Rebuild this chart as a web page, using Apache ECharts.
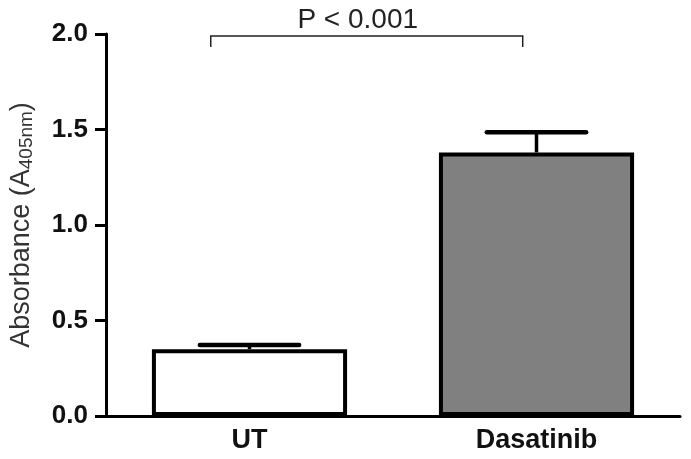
<!DOCTYPE html>
<html><head><meta charset="utf-8">
<script src="https://cdn.jsdelivr.net/npm/echarts@6/dist/echarts.min.js"></script>
<style>html,body{margin:0;padding:0;background:#fff}#c{width:691px;height:459px}</style>
</head><body><div id="c"></div>
<script>
const categories = ['UT', 'Dasatinib'];
const means = [0.35, 1.38];
const errorTops = [0.372, 1.485];
const barColors = ['#ffffff', '#808080'];
const yTicks = [0, 0.5, 1.0, 1.5, 2.0];
const bracketLabel = 'P < 0.001';
const bracketY = 1.99;

const chart = echarts.init(document.getElementById('c'));
const font = '"Liberation Sans", Arial, Helvetica, sans-serif';

chart.setOption({
  animation: false,
  grid: { left: 102, right: 11, top: 34, bottom: 43, containLabel: false },
  xAxis: {
    type: 'category', data: categories,
    axisLine: { lineStyle: { color: '#000', width: 3 } },
    axisTick: { alignWithLabel: true, length: 10, lineStyle: { color: '#000', width: 3 } },
    axisLabel: { color: '#111', fontFamily: font, fontWeight: 'bold', fontSize: 27, margin: 11 }
  },
  yAxis: {
    type: 'value', min: 0, max: 2.0, interval: 0.5,
    axisLine: { show: true, onZero: false, lineStyle: { color: '#000', width: 3 } },
    axisTick: { show: true, length: 11, lineStyle: { color: '#000', width: 3 } },
    splitLine: { show: false },
    axisLabel: { color: '#111', fontFamily: font, fontWeight: 'bold', fontSize: 26, margin: 18,
      formatter: v => yTicks.includes(v) ? v.toFixed(1) : '' },
    name: '{a|Absorbance (A}{s|405nm}{a|)}',
    nameLocation: 'middle', nameGap: 70, nameRotate: 90,
    nameTextStyle: {
      rich: {
        a: { fontFamily: font, fontSize: 27, color: '#333' },
        s: { fontFamily: font, fontSize: 19, color: '#333', verticalAlign: 'bottom', padding: [10, 0, 0, 0] }
      }
    }
  },
  series: [
    {
      type: 'bar', barWidth: '68%',
      data: means.map((v, i) => ({ value: v, itemStyle: { color: barColors[i] } })),
      itemStyle: { borderColor: '#000', borderWidth: 4 },
      z: 2
    },
    {
      type: 'custom', z: 3,
      data: means.map((m, i) => [i, m, errorTops[i]]),
      renderItem: (params, api) => {
        const top = api.coord([api.value(0), api.value(2)]);
        const base = api.coord([api.value(0), api.value(1)]);
        const half = api.size([1, 0])[0] * 0.173;
        return {
          type: 'group',
          children: [
            { type: 'line', shape: { x1: top[0], y1: top[1], x2: base[0], y2: base[1] },
              style: { stroke: '#000', lineWidth: 3.5 } },
            { type: 'line', shape: { x1: top[0] - half, y1: top[1], x2: top[0] + half, y2: top[1] },
              style: { stroke: '#000', lineWidth: 4.5, lineCap: 'round' } }
          ]
        };
      }
    },
    {
      type: 'custom', z: 4, clip: false,
      data: [[0, 1, bracketY]],
      renderItem: (params, api) => {
        const band = api.size([1, 0])[0];
        const a = api.coord([api.value(0), api.value(2)]);
        const b = api.coord([api.value(1), api.value(2)]);
        const x1 = a[0] - band * 0.135, x2 = b[0] - band * 0.048;
        return {
          type: 'group',
          children: [
            { type: 'polyline', shape: { points: [[x1, a[1] + 11], [x1, a[1]], [x2, b[1]], [x2, b[1] + 11]] },
              style: { stroke: '#222', lineWidth: 1.5, fill: null } },
            { type: 'text', x: (x1 + x2) / 2 - 9, y: a[1] - 2,
              style: { text: bracketLabel, font: '28px ' + font, fill: '#222', align: 'center', verticalAlign: 'bottom' } }
          ]
        };
      }
    }
  ]
});
</script></body></html>
